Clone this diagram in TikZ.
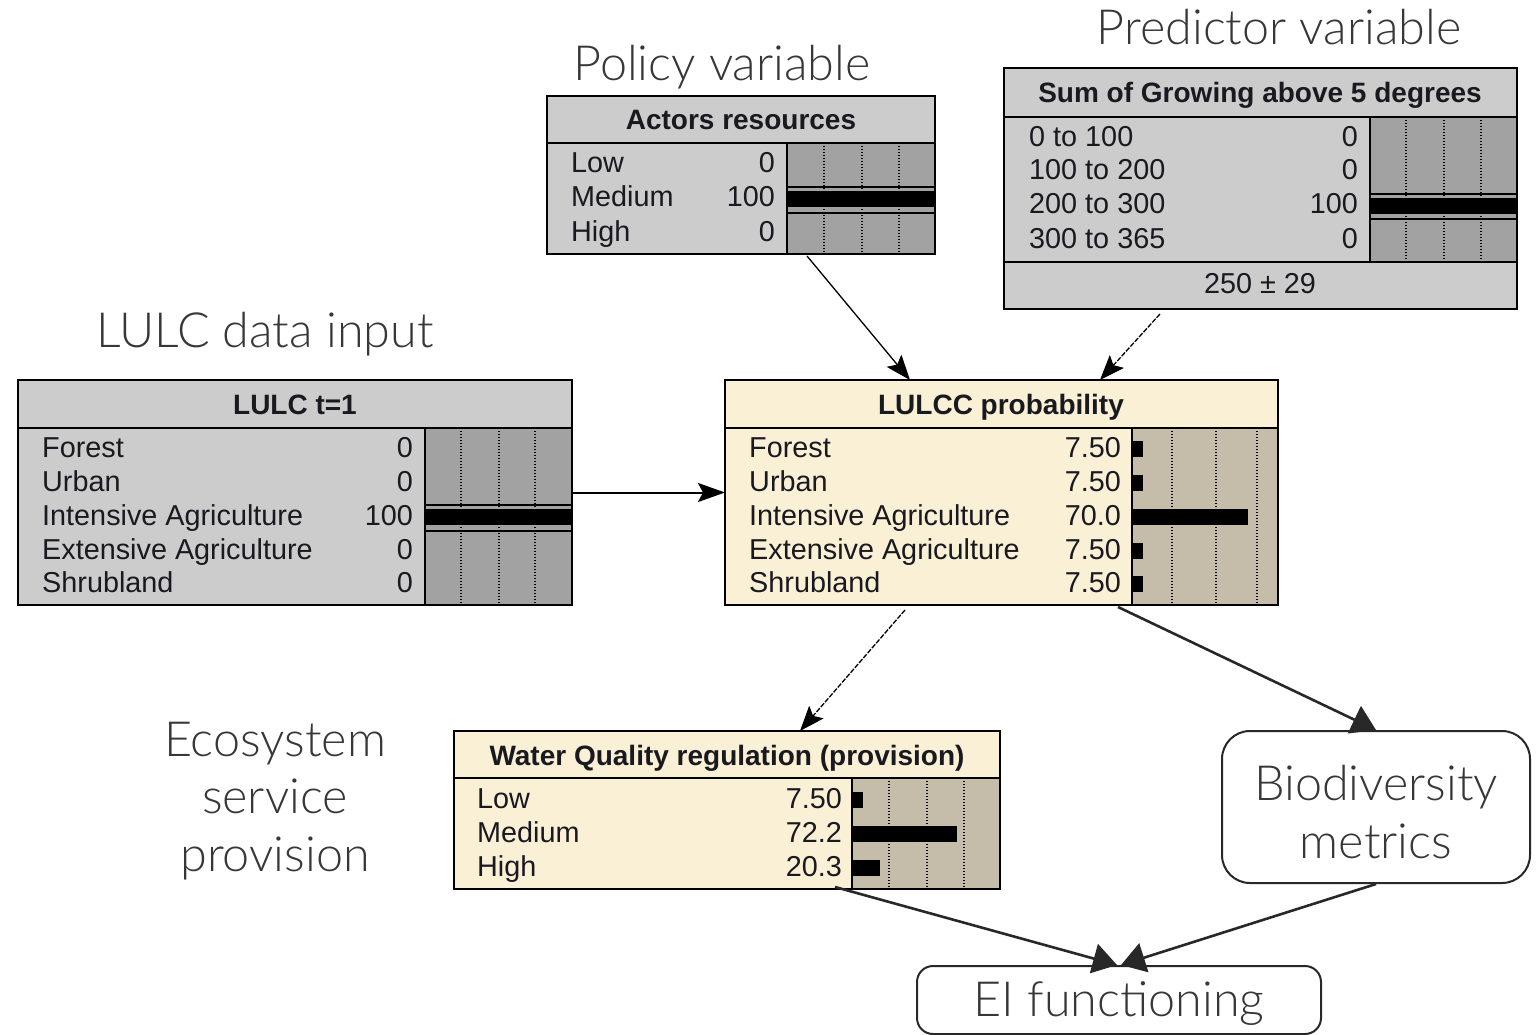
\documentclass[tikz,border=0pt]{standalone}
\usepackage{fontspec}
\setmainfont{Liberation Sans}
\newfontfamily\lato{Lato Light}
\usetikzlibrary{arrows.meta,calc}
\definecolor{boxgray}{RGB}{204,204,204}
\definecolor{bargray}{RGB}{162,162,162}
\definecolor{cream}{RGB}{250,240,214}
\definecolor{tanbar}{RGB}{197,189,170}
\definecolor{txt}{RGB}{25,25,32}
\definecolor{lbl}{RGB}{55,55,55}
\definecolor{darkg}{RGB}{40,40,40}
\tikzset{
  boxfill/.style={inner sep=0pt, outer sep=0pt, draw=none},
  boxline/.style={line width=2pt, draw=black},
  divline/.style={line width=2pt, draw=black},
  dotline/.style={line width=1.3pt, draw=black, dash pattern=on 1.3pt off 1.7pt},
  bandline/.style={line width=1.6pt, draw=black},
  rowlab/.style={anchor=base west, inner sep=0pt, text=txt, font=\fontsize{28.8}{34}\selectfont},
  rowval/.style={anchor=base east, inner sep=0pt, text=txt, font=\fontsize{28.8}{34}\selectfont},
  titletext/.style={anchor=base, inner sep=0pt, text=txt, font=\fontsize{28}{34}\selectfont\bfseries},
  lbltext/.style={inner sep=0pt, text=lbl, font=\fontsize{48.5}{57.5}\selectfont\lato, align=center},
  rbox/.style={draw=darkg, line width=2pt, inner sep=0pt, text=lbl, font=\fontsize{48.5}{57.5}\selectfont\lato, align=center},
  thinarrow/.style={line width=1.3pt, draw=black, -{Stealth[length=25pt,width=19pt,inset=5pt]}},
  midarrow/.style={line width=2pt, draw=black, -{Stealth[length=27pt,width=19pt,inset=5pt]}},
  bigarrow/.style={line width=2.6pt, draw=darkg, -{Triangle[length=24pt,width=30pt]}},
}
\begin{document}
\begin{tikzpicture}[x=1pt,y=-1pt]
\useasboundingbox (0,0) rectangle (1537,1035);

% ---------------- Actors resources ----------------
\node[boxfill, fill=boxgray, minimum width=388pt, minimum height=158pt] (actors) at (741,175) {};
\fill[bargray] (787,143) rectangle (935,254);
\foreach \xx in {824,862,899} \draw[dotline] (\xx,143) -- (\xx,254);
\draw[bandline] (787,187) -- (935,187);
\fill[black] (787,191) rectangle (935,207);
\draw[bandline] (787,213) -- (935,213);
\draw[divline] (547,143) -- (935,143);
\draw[divline] (787,143) -- (787,254);
\draw[boxline] (actors.south west) rectangle (actors.north east);
\node[titletext] (actT) at (741,130) {Actors resources};
\foreach \lab/\val/\yy [count=\i] in {Low/0/163, Medium/100/197, High/0/231} {
  \node[rowlab] (actL\i) at (571,\yy+10) {\lab};
  \node[rowval] (actV\i) at (775,\yy+10) {\val};
}

% ---------------- Sum of Growing ----------------
\node[boxfill, fill=boxgray, minimum width=513pt, minimum height=241pt] (sum) at (1260.5,188.5) {};
\fill[bargray] (1370,117) rectangle (1517,262);
\foreach \xx in {1406,1444,1481} \draw[dotline] (\xx,117) -- (\xx,262);
\draw[bandline] (1370,194) -- (1517,194);
\fill[black] (1370,198) rectangle (1517,214);
\draw[bandline] (1370,219) -- (1517,219);
\draw[divline] (1004,117) -- (1517,117);
\draw[divline] (1004,262) -- (1517,262);
\draw[divline] (1370,117) -- (1370,262);
\draw[boxline] (sum.south west) rectangle (sum.north east);
\node[titletext] (sumT) at (1260,103) {Sum of Growing above 5 degrees};
\foreach \lab/\val/\yy [count=\i] in {0 to 100/0/137, 100 to 200/0/170, 200 to 300/100/204, 300 to 365/0/238} {
  \node[rowlab] (sumL\i) at (1029,\yy+10) {\lab};
  \node[rowval] (sumV\i) at (1358,\yy+10) {\val};
}
\node[titletext, font=\fontsize{28.8}{34}\selectfont] (sumM) at (1260,294) {250 ± 29};

% ---------------- LULC t=1 ----------------
\node[boxfill, fill=boxgray, minimum width=554pt, minimum height=225pt] (lulc) at (295,492.5) {};
\fill[bargray] (425,428) rectangle (572,605);
\foreach \xx in {461,499,535} \draw[dotline] (\xx,428) -- (\xx,605);
\draw[bandline] (425,505) -- (572,505);
\fill[black] (425,509) rectangle (572,525);
\draw[bandline] (425,531) -- (572,531);
\draw[divline] (18,428) -- (572,428);
\draw[divline] (425,428) -- (425,605);
\draw[boxline] (lulc.south west) rectangle (lulc.north east);
\node[titletext] (lulcT) at (295,414) {LULC t=1};
\foreach \lab/\val/\yy [count=\i] in {Forest/0/447, Urban/0/481, Intensive Agriculture/100/515, Extensive Agriculture/0/549, Shrubland/0/582} {
  \node[rowlab] (lulcL\i) at (42,\yy+10) {\lab};
  \node[rowval] (lulcV\i) at (413,\yy+10) {\val};
}

% ---------------- LULCC probability ----------------
\node[boxfill, fill=cream, minimum width=553pt, minimum height=225pt] (lulcc) at (1001.5,492.5) {};
\fill[tanbar] (1132,428) rectangle (1278,605);
\foreach \xx in {1172,1216,1257} \draw[dotline] (\xx,428) -- (\xx,605);
\foreach \yy/\ww in {447/11, 481/11, 515/116, 549/11, 582/11} \fill[black] (1132,\yy-6) rectangle (1132+\ww,\yy+10);
\draw[divline] (725,428) -- (1278,428);
\draw[divline] (1132,428) -- (1132,605);
\draw[boxline] (lulcc.south west) rectangle (lulcc.north east);
\node[titletext] (lulccT) at (1001,414) {LULCC probability};
\foreach \lab/\val/\yy [count=\i] in {Forest/7.50/447, Urban/7.50/481, Intensive Agriculture/70.0/515, Extensive Agriculture/7.50/549, Shrubland/7.50/582} {
  \node[rowlab] (lulccL\i) at (749,\yy+10) {\lab};
  \node[rowval] (lulccV\i) at (1121,\yy+10) {\val};
}

% ---------------- Water Quality ----------------
\node[boxfill, fill=cream, minimum width=546pt, minimum height=158pt] (water) at (727,810) {};
\fill[tanbar] (852,778) rectangle (1000,889);
\foreach \xx in {889,927,964} \draw[dotline] (\xx,778) -- (\xx,889);
\foreach \yy/\ww in {798/11, 832/105, 866/28} \fill[black] (852,\yy-6) rectangle (852+\ww,\yy+10);
\draw[divline] (454,778) -- (1000,778);
\draw[divline] (852,778) -- (852,889);
\draw[boxline] (water.south west) rectangle (water.north east);
\node[titletext] (waterT) at (727,765) {Water Quality regulation (provision)};
\foreach \lab/\val/\yy [count=\i] in {Low/7.50/798, Medium/72.2/832, High/20.3/866} {
  \node[rowlab] (waterL\i) at (477,\yy+10) {\lab};
  \node[rowval] (waterV\i) at (842,\yy+10) {\val};
}

% ---------------- rounded boxes ----------------
\node[rbox, rounded corners=28pt, minimum width=308pt, minimum height=152pt] (bio) at (1376,807) {};
\node[lbltext, anchor=center] (bioT) at (1376,812) {Biodiversity\\metrics};
\node[rbox, rounded corners=16pt, minimum width=404pt, minimum height=68pt, text depth=2pt] (ei) at (1119,1000) {EI functioning};

% ---------------- labels ----------------
\node[lbltext, anchor=base] (lpol) at (722,81) {Policy variable};
\node[lbltext, anchor=base] (lpred) at (1279,45) {Predictor variable};
\node[lbltext, anchor=base] (llulc) at (265,347) {LULC data input};
\node[lbltext, anchor=center] (leco) at (275,801) {Ecosystem\\service\\provision};

% ---------------- connectors ----------------
\draw[thinarrow] ([xshift=260pt,yshift=-2pt]actors.south west) -- ([xshift=185pt]lulcc.north west);
\draw[thinarrow, dash pattern=on 5pt off 1.5pt] ([xshift=156pt,yshift=-5pt]sum.south west) -- ([xshift=375pt]lulcc.north west);
\draw[midarrow] (lulc.east) -- (lulcc.west);
\draw[thinarrow, dash pattern=on 5pt off 1.5pt] ([xshift=180pt,yshift=-5pt]lulcc.south west) -- ([xshift=346pt]water.north west);
\draw[bigarrow] ([xshift=393pt,yshift=-2pt]lulcc.south west) -- (bio.north);
\draw[bigarrow] ([xshift=381pt,yshift=2pt]water.south west) -- ([xshift=-2pt]ei.north);
\draw[bigarrow] (bio.south) -- ([xshift=2pt]ei.north);
\end{tikzpicture}
\end{document}
